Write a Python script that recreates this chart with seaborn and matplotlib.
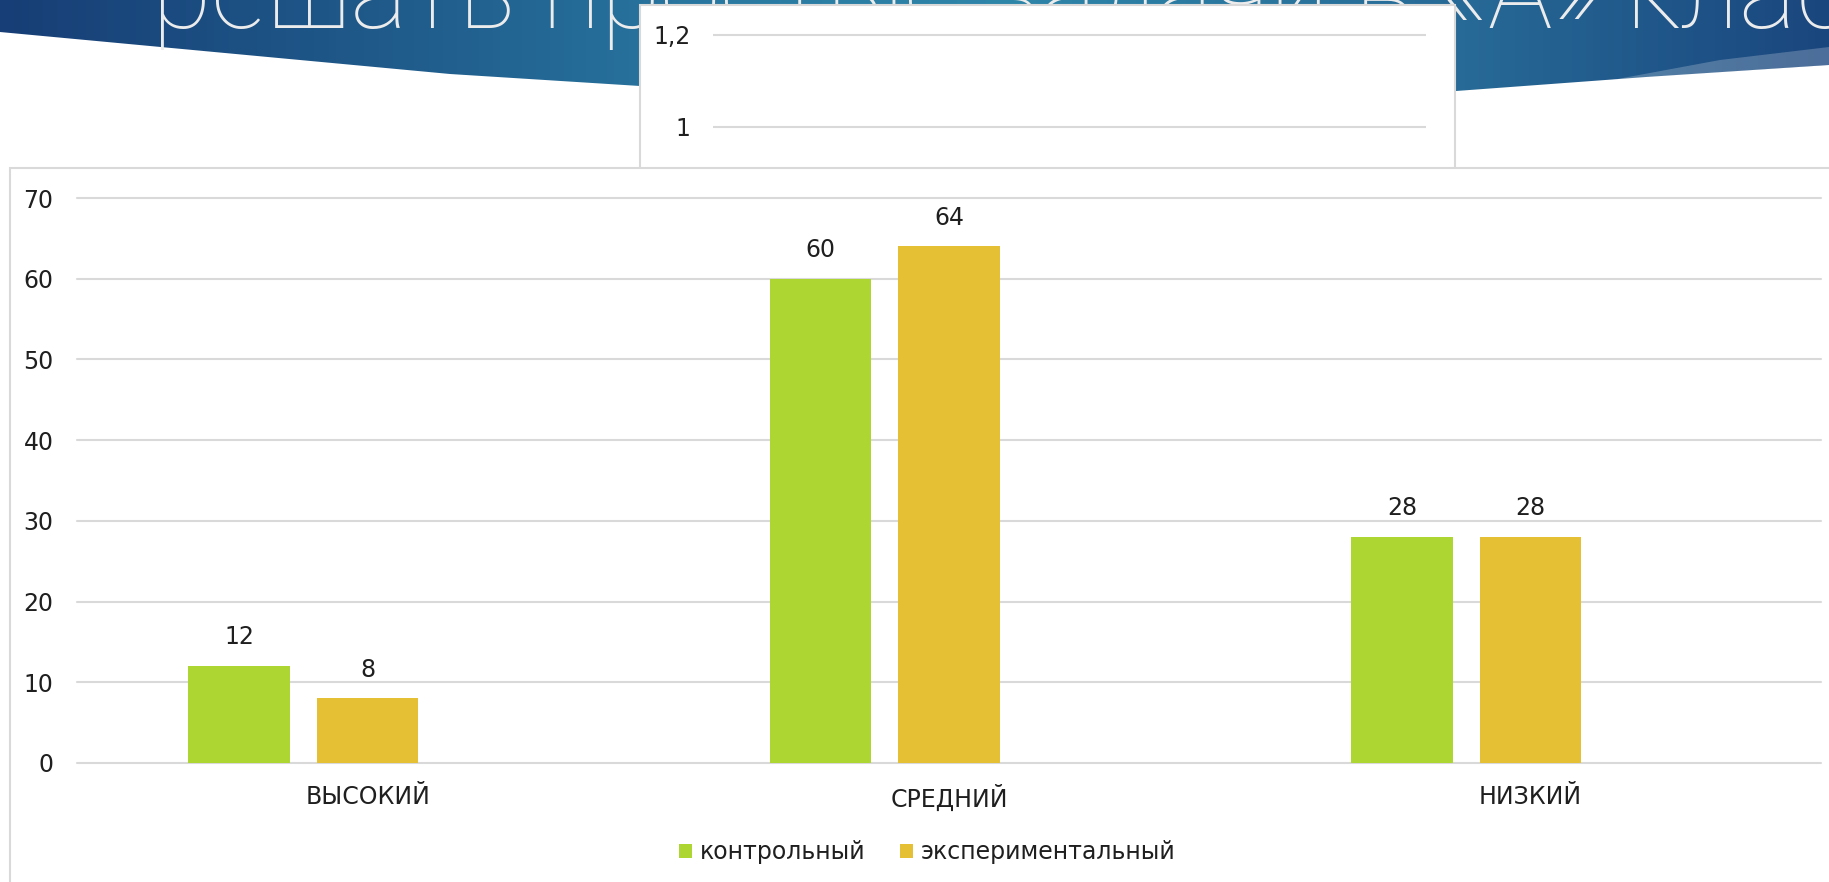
import matplotlib
matplotlib.use("Agg")
import matplotlib.pyplot as plt
from matplotlib.colors import LinearSegmentedColormap
from matplotlib.patches import Polygon, Rectangle, Patch
import numpy as np
import pandas as pd
import seaborn as sns

# Figure settings (pixels at 100 dpi)
W, H, DPI = 1829, 882, 100
FONTSIZE = 17

# Chart data
categories = ["ВЫСОКИЙ", "СРЕДНИЙ", "НИЗКИЙ"]
series_names = ["контрольный", "экспериментальный", "ряд 3"]
control = [12, 60, 28]
experimental = [8, 64, 28]
empty_series = [np.nan, np.nan, np.nan]
y_ticks = [0, 10, 20, 30, 40, 50, 60, 70]
top_ticks = [1.0, 1.2]
top_tick_labels = ["1", "1,2"]
title_left = "решать простые задачи в"
title_right = "«А» классе"

GREEN = "#ADD633"
YELLOW = "#E5C034"
GRID = "#D9D9D9"
TEXT = "#1F1F1F"


def px_x(x):
    return x / W


def px_y(y):
    # pixel row (from top) -> figure fraction
    return 1 - y / H


df = pd.DataFrame(
    {
        "level": categories * 3,
        "series": [series_names[0]] * 3 + [series_names[1]] * 3 + [series_names[2]] * 3,
        "value": control + experimental + empty_series,
    }
)

sns.set_theme(style="white")
plt.rcParams["font.family"] = ["DejaVu Sans"]

fig = plt.figure(figsize=(W / DPI, H / DPI), dpi=DPI)
fig.patch.set_facecolor("white")

# Slide background: blue banner with partly hidden title
bg = fig.add_axes([0, 0, 1, 1], zorder=-5)
bg.set_xlim(0, W)
bg.set_ylim(H, 0)
bg.axis("off")

banner_pts = [(0, -5), (W, -5), (W, 65), (1646, 77), (1456, 91), (1000, 93),
              (640, 86), (450, 74), (0, 32)]
banner = Polygon(banner_pts, closed=True, transform=bg.transData,
                 facecolor="none", edgecolor="none")
bg.add_patch(banner)
cmap = LinearSegmentedColormap.from_list(
    "banner",
    [(0, "#173E76"), (0.25, "#21608F"), (0.4, "#2A7AA2"), (0.55, "#2E86A9"),
     (0.8, "#276A97"), (1, "#1A467E")],
)
img = bg.imshow(np.linspace(0, 1, 512)[None, :], cmap=cmap,
                extent=(0, W, 100, -5), aspect="auto", zorder=1)
img.set_clip_path(banner)
bg.add_patch(Polygon([(1612, 80), (1720, 60), (W, 47), (W, 65), (1700, 74)],
                     closed=True, facecolor="white", alpha=0.22,
                     edgecolor="none", zorder=2))

title_kw = dict(color="#ECECEC", fontsize=78, fontweight="light",
                family=["Roboto", "DejaVu Sans"], va="baseline", zorder=3)
bg.text(152, 28, title_left, ha="left", **title_kw)
bg.text(1440, 28, title_right, ha="left", **title_kw)

# Upper (partly hidden) chart box
bg.add_patch(Rectangle((640, 5), 815, 400, facecolor="white",
                       edgecolor=GRID, lw=1.5, zorder=4))
ax_top = fig.add_axes([px_x(713), px_y(168), px_x(713), 148 / H], zorder=0)
ax_top.set_facecolor("none")
ax_top.set_ylim(0.91087, 1.2326)
ax_top.set_yticks(top_ticks, top_tick_labels)
ax_top.set_xticks([])
ax_top.yaxis.grid(True, color=GRID, lw=1.5)
ax_top.tick_params(axis="y", length=0, pad=16, labelsize=FONTSIZE,
                   labelcolor=TEXT)
sns.despine(ax=ax_top, left=True, bottom=True)

# Main chart frame
fig.patches.append(
    Rectangle((px_x(10), -0.1), 1.2, px_y(168) + 0.1, transform=fig.transFigure,
              facecolor="white", edgecolor=GRID, lw=1.5, zorder=1)
)

# Main bar chart
ax = fig.add_axes([px_x(77), px_y(763), px_x(1744), 565 / H], zorder=2)
ax.set_facecolor("none")
sns.barplot(
    data=df, x="level", y="value", hue="series", order=categories,
    hue_order=series_names, palette=[GREEN, YELLOW, "white"], saturation=1,
    width=0.663, gap=0.21, linewidth=0, legend=False, errorbar=None, ax=ax,
)
ax.set_xlim(-0.5, 2.5)
ax.set_ylim(0, 70)
ax.set_yticks(y_ticks)
ax.set_xlabel("")
ax.set_ylabel("")
ax.yaxis.grid(True, color=GRID, lw=1.5)
ax.set_axisbelow(True)
for line in ax.get_ygridlines():
    line.set_clip_on(False)
ax.tick_params(axis="y", length=0, pad=17, labelsize=FONTSIZE, labelcolor=TEXT)
ax.tick_params(axis="x", length=0, pad=16, labelsize=FONTSIZE, labelcolor=TEXT)
sns.despine(ax=ax, left=True, bottom=True)

for container in ax.containers[:2]:
    ax.bar_label(container, padding=12, fontsize=FONTSIZE, color=TEXT)

handles = [Patch(facecolor=GREEN, edgecolor="none"),
           Patch(facecolor=YELLOW, edgecolor="none")]
fig.legend(
    handles, series_names[:2], loc="center", bbox_to_anchor=(0.507, px_y(852)),
    ncol=2, frameon=False, fontsize=FONTSIZE, handlelength=0.55,
    handleheight=0.55, handletextpad=0.3, columnspacing=1.5,
    labelcolor=TEXT,
)

fig.savefig("out.png", dpi=DPI)
